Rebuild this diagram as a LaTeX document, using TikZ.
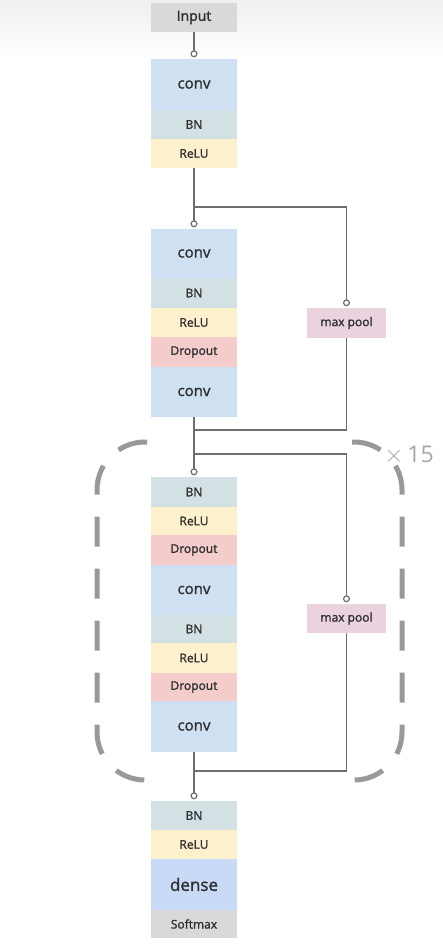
\documentclass[tikz,border=0pt]{standalone}
\usepackage{fontspec}
\setmainfont{Open Sans}[BoldFont={Open Sans}, BoldFeatures={FakeBold=1.4}]
\usetikzlibrary{arrows.meta}
\definecolor{convc}{HTML}{CFE0F3}
\definecolor{bnc}{HTML}{D3E1E4}
\definecolor{reluc}{HTML}{FDF1CD}
\definecolor{dropc}{HTML}{F4CCCC}
\definecolor{poolc}{HTML}{EAD3DE}
\definecolor{densec}{HTML}{C9DAF6}
\definecolor{greyc}{HTML}{D9D9D9}
\definecolor{linec}{HTML}{6E6E6E}
\definecolor{txtc}{HTML}{2E2E2E}
\tikzset{
  layer/.style={inner sep=0pt, minimum width=86pt, text=txtc, font=\fontsize{12}{12}\selectfont\bfseries},
  convbox/.style={layer, fill=convc, minimum height=50pt, font=\fontsize{15}{15}\selectfont\bfseries},
  bnbox/.style={layer, fill=bnc, minimum height=29pt},
  relubox/.style={layer, fill=reluc, minimum height=29pt},
  dropbox/.style={layer, fill=dropc, minimum height=29pt},
  poolbox/.style={layer, fill=poolc, minimum width=79pt, minimum height=30pt},
  link/.style={draw=linec, line width=1.2pt},
  into/.style={link, -{Circle[open,length=7pt,width=7pt,fill=white]}, shorten >=1.5pt},
}
\begin{document}
\begin{tikzpicture}[x=1pt,y=-1pt]
\useasboundingbox (0,0) rectangle (443,947);
\shade[top color=black!6, bottom color=white] (0,0) rectangle (443,60);
% stem
\node[layer, fill=greyc, minimum height=29pt, font=\fontsize{14}{14}\selectfont\bfseries] (input) at (194,17.5) {Input};
\node[convbox, minimum height=51pt] (conv1) at (194,84.5) {conv};
\node[bnbox] (bn1) at (194,124.5) {BN};
\node[relubox] (relu1) at (194,153.5) {ReLU};
% first block
\node[convbox, minimum height=49pt] (conv2) at (194,253.5) {conv};
\node[bnbox, minimum height=30pt] (bn2) at (194,293) {BN};
\node[relubox] (relu2) at (194,322.5) {ReLU};
\node[dropbox, minimum height=30pt] (drop2) at (194,352) {Dropout};
\node[convbox] (conv2b) at (194,392) {conv};
\node[poolbox] (pool1) at (346.5,323) {max pool};
% repeated block
\node[bnbox, minimum height=30pt] (bn3) at (194,492) {BN};
\node[relubox, minimum height=28pt] (relu3) at (194,521) {ReLU};
\node[dropbox, minimum height=30pt] (drop3) at (194,550) {Dropout};
\node[convbox] (conv3) at (194,590) {conv};
\node[bnbox, minimum height=28pt] (bn3b) at (194,629) {BN};
\node[relubox, minimum height=30pt] (relu3b) at (194,658) {ReLU};
\node[dropbox, minimum height=28pt] (drop3b) at (194,687) {Dropout};
\node[convbox, minimum height=51pt] (conv3b) at (194,726.5) {conv};
\node[poolbox, minimum height=29pt] (pool2) at (346.5,618.5) {max pool};
% head
\node[bnbox] (bn4) at (194,815.5) {BN};
\node[relubox] (relu4) at (194,844.5) {ReLU};
\node[convbox, fill=densec, minimum height=51pt, font=\fontsize{17}{17}\selectfont\bfseries] (dense) at (194,884.5) {dense};
\node[layer, fill=greyc, minimum height=28pt] (soft) at (194,924) {Softmax};
% connectors
\coordinate (sp1) at (194,207);
\coordinate (jn1) at (194,430);
\coordinate (sp2) at (194,454);
\coordinate (jn2) at (194,771);
\draw[into] (input) -- (conv1);
\draw[into] (relu1) -- (conv2);
\draw[into] (sp1) -| (pool1);
\draw[link] (pool1) |- (jn1);
\draw[into] (conv2b) -- (bn3);
\draw[into] (sp2) -| (pool2);
\draw[link] (pool2) |- (jn2);
\draw[into] (conv3b) -- (bn4);
\scope[draw=black!40, line width=5pt, dash pattern=on 30pt off 22pt, rounded corners=48pt]
\draw (147,442) -- (97,442) -- (97,780) -- (147,780);
\draw (352,442) -- (402,442) -- (402,780) -- (352,780);
\endscope
\node[text=black!35, font=\fontsize{23}{23}\selectfont] (times) at (409,455) {$\times$\,15};
\end{tikzpicture}
\end{document}
